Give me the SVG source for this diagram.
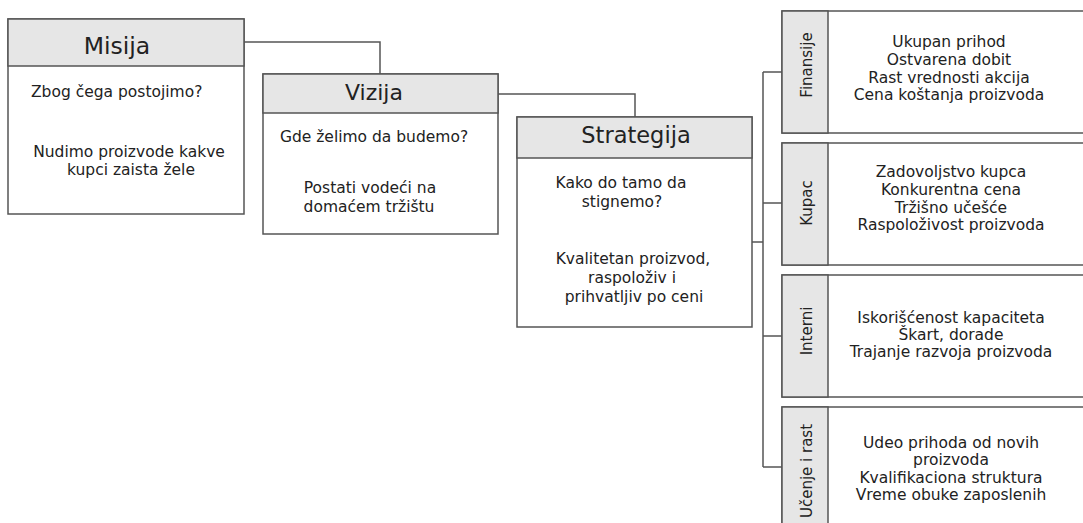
<svg xmlns="http://www.w3.org/2000/svg" width="1083" height="523" viewBox="0 0 1083 523">
<style>
.box{fill:#fff;stroke:#555;stroke-width:1.5}
.hdr{fill:#e6e6e6;stroke:#555;stroke-width:1.5}
.con{fill:none;stroke:#555;stroke-width:1.5}
text{font-family:"DejaVu Sans","Liberation Sans",sans-serif;fill:#222}
.t{font-size:23px;text-anchor:middle}
.b{font-size:15.5px}
.c{font-size:15.5px;text-anchor:middle}
.v{font-size:15px;text-anchor:middle}
</style>
<rect width="1083" height="523" fill="#fff"/>
<g id="connectors">
<polyline class="con" points="244,42 380,42 380,74"/>
<polyline class="con" points="498,94 635,94 635,117"/>
<polyline class="con" points="752,242 763,242"/>
<line class="con" x1="763" y1="72" x2="763" y2="467"/>
<line class="con" x1="763" y1="72" x2="782" y2="72"/>
<line class="con" x1="763" y1="203" x2="782" y2="203"/>
<line class="con" x1="763" y1="336" x2="782" y2="336"/>
<line class="con" x1="763" y1="467" x2="782" y2="467"/>
</g>
<g id="misija">
<rect class="box" x="8" y="19" width="236" height="195"/>
<rect class="hdr" x="8" y="19" width="236" height="47"/>
<text class="t" x="117" y="54" style="font-size:23.5px">Misija</text>
<text class="b" x="31" y="97">Zbog čega postojimo?</text>
<text class="c" x="129" y="157">Nudimo proizvode kakve</text>
<text class="c" x="131" y="175">kupci zaista žele</text>
</g>
<g id="vizija">
<rect class="box" x="263" y="74" width="235" height="160"/>
<rect class="hdr" x="263" y="74" width="235" height="39"/>
<text class="t" x="374" y="100" style="font-size:22px">Vizija</text>
<text class="c" x="374" y="142">Gde želimo da budemo?</text>
<text class="c" x="370" y="193">Postati vodeći na</text>
<text class="c" x="369" y="212">domaćem tržištu</text>
</g>
<g id="strategija">
<rect class="box" x="517" y="117" width="235" height="210"/>
<rect class="hdr" x="517" y="117" width="235" height="41"/>
<text class="t" x="636" y="143" style="font-size:22.5px">Strategija</text>
<text class="c" x="621" y="188">Kako do tamo da</text>
<text class="c" x="622" y="207">stignemo?</text>
<text class="c" x="633" y="264">Kvalitetan proizvod,</text>
<text class="c" x="632" y="283">raspoloživ i</text>
<text class="c" x="634" y="302">prihvatljiv po ceni</text>
</g>
<g id="finansije">
<rect class="box" x="782" y="11" width="310" height="122"/>
<rect class="hdr" x="782" y="11" width="46" height="122"/>
<text class="v" transform="translate(812,65) rotate(-90)">Finansije</text>
<text class="c" x="949" y="47">Ukupan prihod</text>
<text class="c" x="949" y="65">Ostvarena dobit</text>
<text class="c" x="949" y="82.5">Rast vrednosti akcija</text>
<text class="c" x="949" y="100">Cena koštanja proizvoda</text>
</g>
<g id="kupac">
<rect class="box" x="782" y="143" width="310" height="122"/>
<rect class="hdr" x="782" y="143" width="46" height="122"/>
<text class="v" transform="translate(812,203) rotate(-90)">Kupac</text>
<text class="c" x="951" y="177">Zadovoljstvo kupca</text>
<text class="c" x="951" y="195">Konkurentna cena</text>
<text class="c" x="951" y="212.5">Tržišno učešće</text>
<text class="c" x="951" y="230">Raspoloživost proizvoda</text>
</g>
<g id="interni">
<rect class="box" x="782" y="275" width="310" height="122"/>
<rect class="hdr" x="782" y="275" width="46" height="122"/>
<text class="v" transform="translate(812,331) rotate(-90)">Interni</text>
<text class="c" x="951" y="323">Iskorišćenost kapaciteta</text>
<text class="c" x="951" y="340">Škart, dorade</text>
<text class="c" x="951" y="357">Trajanje razvoja proizvoda</text>
</g>
<g id="ucenje">
<rect class="box" x="782" y="407" width="310" height="130"/>
<rect class="hdr" x="782" y="407" width="46" height="130"/>
<text class="v" transform="translate(812,471) rotate(-90)">Učenje i rast</text>
<text class="c" x="951" y="448">Udeo prihoda od novih</text>
<text class="c" x="951" y="465">proizvoda</text>
<text class="c" x="951" y="483">Kvalifikaciona struktura</text>
<text class="c" x="951" y="500">Vreme obuke zaposlenih</text>
</g>
</svg>
